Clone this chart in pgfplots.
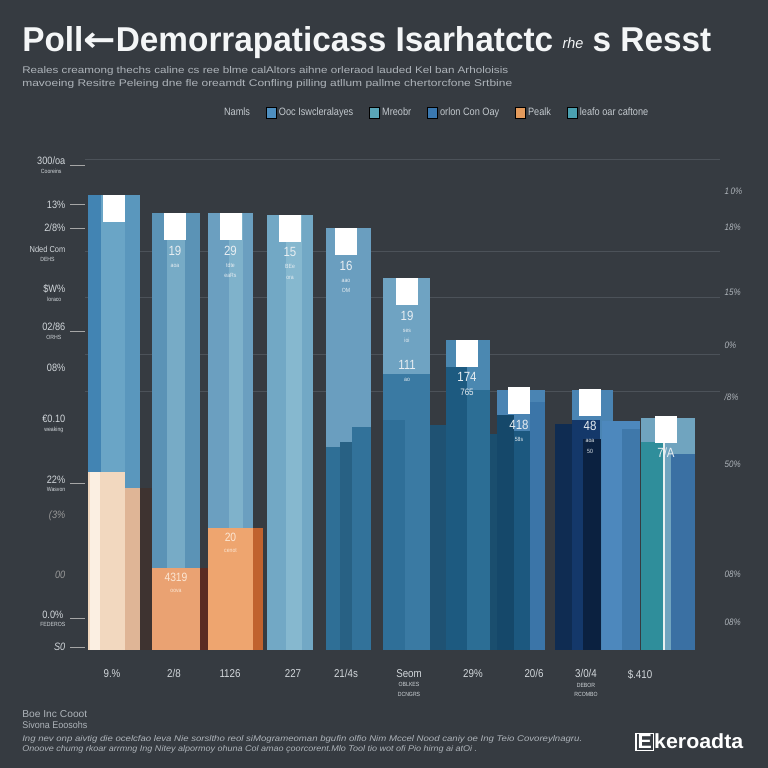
\documentclass[border=0pt]{standalone}
\usepackage{pgfplots}
\pgfplotsset{compat=1.18}
\usepackage{fontspec}
\setmainfont{Liberation Sans}[FakeStretch=0.86]
\newfontfamily\djv{DejaVu Sans}
\usepackage{graphicx}
\newlength\px \setlength\px{0.75pt}
\definecolor{bg}{HTML}{363B41}
\definecolor{titlec}{HTML}{F4F6F7}
\definecolor{subc}{HTML}{AEB4BA}
\definecolor{legc}{HTML}{C3C9CE}
\definecolor{tickc}{HTML}{D3D8DC}
\definecolor{rtc}{HTML}{AEB4BA}
\definecolor{gridc}{HTML}{4C5259}
\definecolor{labc}{HTML}{E8EEF2}
\definecolor{orlab}{HTML}{FCE7D4}
\definecolor{b1a}{HTML}{4284B3}\definecolor{b1b}{HTML}{6AA5C6}\definecolor{b1c}{HTML}{5A97BD}
\definecolor{cr}{HTML}{F2D8BF}\definecolor{wh}{HTML}{FBEFE2}\definecolor{tan}{HTML}{DFB596}
\definecolor{b2a}{HTML}{5B93B6}\definecolor{b2b}{HTML}{77ABC6}\definecolor{or2}{HTML}{EAA272}
\definecolor{b3a}{HTML}{6B9FC0}\definecolor{b3b}{HTML}{7FB2CB}\definecolor{or3}{HTML}{EEA56F}\definecolor{dor}{HTML}{C0622E}
\definecolor{g12}{HTML}{3E3330}\definecolor{g23}{HTML}{5A2B22}
\definecolor{b4a}{HTML}{72A8C5}\definecolor{b4b}{HTML}{86B8CF}
\definecolor{b5a}{HTML}{6A9EBF}\definecolor{d5a}{HTML}{2F6F96}\definecolor{d5b}{HTML}{286184}\definecolor{d5c}{HTML}{32729A}
\definecolor{b6a}{HTML}{6FA3C2}\definecolor{d6a}{HTML}{3A7AA3}\definecolor{d6b}{HTML}{2F6F98}\definecolor{s6}{HTML}{1F5273}
\definecolor{b7a}{HTML}{4B88B1}\definecolor{d7a}{HTML}{1D5A80}\definecolor{d7b}{HTML}{2C6E95}\definecolor{s7}{HTML}{1A4E6E}
\definecolor{b8a}{HTML}{4A84B3}\definecolor{d8a}{HTML}{15486A}\definecolor{d8b}{HTML}{1C587F}\definecolor{d8c}{HTML}{3B75A8}
\definecolor{d9a}{HTML}{0F2C52}\definecolor{b9a}{HTML}{4A84B3}\definecolor{d9b}{HTML}{14386A}\definecolor{d9c}{HTML}{0B2140}
\definecolor{b10a}{HTML}{4D88BD}\definecolor{b10b}{HTML}{3F78AA}\definecolor{b10c}{HTML}{70A4BF}
\definecolor{t10}{HTML}{2F8E9B}\definecolor{d10}{HTML}{3A70A3}\definecolor{wl}{HTML}{E8F0F0}
\definecolor{lg1}{HTML}{4E8FC0}\definecolor{lg2}{HTML}{5AA6B8}\definecolor{lg3}{HTML}{3A78B0}
\definecolor{lg4}{HTML}{E39A5C}\definecolor{lg5}{HTML}{4AA0B0}
\newcommand\sm{\fontsize{4.5}{5}\selectfont}
\newcommand\fit[3]{\resizebox{#1\px}{#2\px}{#3}}
\DeclareRobustCommand\lbA{}
\DeclareRobustCommand\lbB{19\\[-1pt]{\sm aoa}}
\DeclareRobustCommand\lbC{29\\[-1pt]{\sm tdte}\\[-2pt]{\sm eaRs}}
\DeclareRobustCommand\lbD{15\\[-1pt]{\sm BEe}\\[-2pt]{\sm ora}}
\DeclareRobustCommand\lbE{16\\[-1pt]{\sm aao}\\[-2pt]{\sm OM}}
\DeclareRobustCommand\lbF{19\\[-1pt]{\sm ses}\\[-2pt]{\sm ioi}\\[10pt]111\\[-1pt]{\sm ao}}
\DeclareRobustCommand\lbG{174\\[0pt]{\fontsize{7}{7}\selectfont 765}}
\DeclareRobustCommand\lbH{418\\[-1pt]{\sm 58s}}
\DeclareRobustCommand\lbI{48\\[-1pt]{\sm aoa}\\[-2pt]{\sm 50}}
\DeclareRobustCommand\lbJ{7/A}
\DeclareRobustCommand\lbOB{4319\\[-1pt]{\sm oova}}
\DeclareRobustCommand\lbOC{20\\[-1pt]{\sm cenot}}
\begin{document}
\begin{tikzpicture}[x=0.75pt,y=0.75pt]
\fill[bg] (0,0) rectangle (768,768);
% title and subtitle
\node[anchor=base west, inner sep=0pt, text=titlec] at (22,716) {\fit{689}{25}{\fontsize{30}{30}\selectfont\bfseries Poll{\djv\bfseries ←}Demorrapaticass Isarhatctc \raisebox{3pt}{\fontsize{13}{13}\selectfont\mdseries\itshape rhe} s Resst}};
\node[anchor=base west, inner sep=0pt, text=subc] at (22,694) {\fit{486}{7}{\fontsize{8}{8}\selectfont Reales creamong thechs caline cs ree blme calAltors aihne orleraod lauded Kel ban Arholoisis}};
\node[anchor=base west, inner sep=0pt, text=subc] at (22,681) {\fit{490}{7}{\fontsize{8}{8}\selectfont mavoeing Resitre Peleing dne fle oreamdt Confling pilling atllum pallme chertorcfone Srtbine}};
% right axis: grid, right labels, legend
\begin{axis}[at={(63.75pt,88.5pt)}, anchor=south west, scale only axis,
  width=635\px, height=495.72\px,
  xmin=85, xmax=720, ymin=0, ymax=102,
  axis x line=none, axis y line*=right, y axis line style={draw=none},
  ytick={94.4,87,73.7,62.8,52.1,38.3,15.6,5.8},
  yticklabels={1\,0\%,18\%,15\%,0\%,/8\%,50\%,08\%,08\%},
  ytick style={draw=none},
  yticklabel style={font=\fontsize{7}{8}\selectfont\itshape, text=rtc},
  extra y ticks={101,81.9,72.6,60.7,53.1}, extra y tick labels={},
  extra y tick style={grid=major},
  major grid style={draw=gridc, line width=0.75pt},
  legend columns=-1,
  legend image code/.code={\fill[#1] (0pt,-4pt) rectangle (7.5pt,4.5pt);},
  legend style={at={(0.553,1.083)}, anchor=center, draw=none, fill=none,
    font=\fontsize{8}{9}\selectfont, text=legc,
    /tikz/every even column/.append style={column sep=13\px}},
]
\addplot[draw=none, forget plot] coordinates {(100,50)};
\addlegendimage{empty legend}
\addlegendimage{fill=lg1}
\addlegendimage{fill=lg2}
\addlegendimage{fill=lg3}
\addlegendimage{fill=lg4}
\addlegendimage{fill=lg5}
\legend{Namls, Ooc Iswcleralayes, Mreobr, orlon Con Oay, Pealk, leafo oar caftone}
\end{axis}
% main axis: bars
\begin{axis}[at={(63.75pt,88.5pt)}, anchor=south west, scale only axis,
  width=635\px, height=495.72\px,
  xmin=85, xmax=720, ymin=0, ymax=102,
  ybar, bar shift=0pt, clip=false,
  axis line style={draw=none},
  tick pos=left, tick align=outside, major tick length=15\px,
  xtick={112,174,230,293,346,409,473,534,586,640},
  xticklabels={{9.\%},{2/8},{1126},{227},{21/4s},{Seom\\[-2pt]{\sm OBLKES}\\[-2pt]{\sm DCNGRS}},{29\%},{20/6},{3/0/4\\[-2pt]{\sm DEBOR}\\[-2pt]{\sm RCOMBO}},{\$.410}},
  xtick style={draw=none},
  xticklabel style={align=center, font=\fontsize{8.5}{9}\selectfont, text=tickc},
  ytick={99.8,91.6,86.8,65.6,34.2,6.4,0.6},
  yticklabels={{300/oa\\[-2pt]{\sm Cooreins}},{13\%},{2/8\%},{02/86\\[-2pt]{\sm ORHS}},{22\%\\[-2pt]{\sm Wasvon}},{0.0\%\\[-2pt]{\sm FEDEROS}},{\itshape S0}},
  ytick style={draw=gray!70, line width=0.6pt},
  yticklabel style={align=center, font=\fontsize{8}{8.5}\selectfont, text=tickc},
  extra y ticks={81.5,73.5,58,46.5,27.6,15.4},
  extra y tick labels={{{\fontsize{6.5}{7}\selectfont Nded Com}\\[-2pt]{\sm DEHS}},{\$W\%\\[-2pt]{\sm loraco}},{08\%},{€0.10\\[-2pt]{\sm weaking}},{\color{gray!80}\itshape (3\%},{\color{gray!80}\itshape 00}},
  extra y tick style={tick style={draw=none}, ytick style={draw=none}},
]
% bar 1
\addplot[fill=b1a, draw=none, bar width=52] coordinates {(114,93.6)};
\addplot[fill=b1b, draw=none, bar width=24] coordinates {(113,93.6)};
\addplot[fill=b1c, draw=none, bar width=15] coordinates {(132.5,93.6)};
\addplot[fill=cr, draw=none, bar width=37] coordinates {(106.5,36.6)};
\addplot[fill=wh, draw=none, bar width=10] coordinates {(95,36.6)};
\addplot[fill=tan, draw=none, bar width=15] coordinates {(132.5,33.3)};
\addplot[fill=g12, draw=none, bar width=12] coordinates {(146,33.3)};
% bar 2
\addplot[fill=b2a, draw=none, bar width=48] coordinates {(176,89.9)};
\addplot[fill=b2b, draw=none, bar width=18] coordinates {(176,89.9)};
\addplot[fill=or2, draw=none, bar width=48] coordinates {(176,16.9)};
\addplot[fill=g23, draw=none, bar width=8] coordinates {(204,16.9)};
% bar 3
\addplot[fill=b3a, draw=none, bar width=45] coordinates {(230.5,89.9)};
\addplot[fill=b3b, draw=none, bar width=14] coordinates {(236,89.9)};
\addplot[fill=or3, draw=none, bar width=45] coordinates {(230.5,25.1)};
\addplot[fill=dor, draw=none, bar width=10] coordinates {(257.5,25.1)};
% bar 4
\addplot[fill=b4a, draw=none, bar width=46] coordinates {(290,89.5)};
\addplot[fill=b4b, draw=none, bar width=16] coordinates {(294,89.5)};
% bar 5
\addplot[fill=b5a, draw=none, bar width=45] coordinates {(348.5,86.8)};
\addplot[fill=d5a, draw=none, bar width=14] coordinates {(333,41.8)};
\addplot[fill=d5b, draw=none, bar width=12] coordinates {(346,42.8)};
\addplot[fill=d5c, draw=none, bar width=19] coordinates {(361.5,45.9)};
% bar 6
\addplot[fill=b6a, draw=none, bar width=47] coordinates {(406.5,76.5)};
\addplot[fill=d6a, draw=none, bar width=47] coordinates {(406.5,56.8)};
\addplot[fill=d6b, draw=none, bar width=22] coordinates {(394,47.3)};
\addplot[fill=s6, draw=none, bar width=16] coordinates {(438,46.3)};
% bar 7
\addplot[fill=b7a, draw=none, bar width=44] coordinates {(468,63.8)};
\addplot[fill=d7a, draw=none, bar width=21] coordinates {(456.5,58.2)};
\addplot[fill=d7b, draw=none, bar width=23] coordinates {(478.5,53.5)};
\addplot[fill=s7, draw=none, bar width=7] coordinates {(493.5,44.4)};
% bar 8
\addplot[fill=b8a, draw=none, bar width=48] coordinates {(521,53.5)};
\addplot[fill=d8a, draw=none, bar width=17] coordinates {(505.5,48.4)};
\addplot[fill=d8b, draw=none, bar width=16] coordinates {(522,45)};
\addplot[fill=d8c, draw=none, bar width=15] coordinates {(537.5,51)};
% bar 9
\addplot[fill=d9a, draw=none, bar width=17] coordinates {(563.5,46.5)};
\addplot[fill=b9a, draw=none, bar width=41] coordinates {(592.5,53.5)};
\addplot[fill=d9b, draw=none, bar width=28] coordinates {(586,47.3)};
\addplot[fill=d9c, draw=none, bar width=18] coordinates {(592,43.4)};
% bar 10
\addplot[fill=b10a, draw=none, bar width=38] coordinates {(621,47.1)};
\addplot[fill=b10b, draw=none, bar width=18] coordinates {(631,45.5)};
\addplot[fill=b10c, draw=none, bar width=54] coordinates {(668,47.7)};
\addplot[fill=t10, draw=none, bar width=24] coordinates {(653,42.8)};
\addplot[fill=d10, draw=none, bar width=24] coordinates {(683,40.3)};
\addplot[fill=wl, draw=none, bar width=2] coordinates {(664,42.8)};
% white boxes with value labels
\addplot[draw=none, fill=none, bar width=1, point meta=explicit symbolic,
  nodes near coords={\textcolor{white}{\rule{22\px}{27\px}}\\[1pt]\pgfplotspointmeta},
  nodes near coords style={anchor=north, inner sep=0pt, align=center,
    font=\fontsize{10}{10}\selectfont, text=labc}]
  coordinates {(114.5,93.6)[\lbA] (175,89.9)[\lbB] (230.5,89.9)[\lbC] (290,89.5)[\lbD]
  (346,86.8)[\lbE] (407,76.5)[\lbF] (467,63.8)[\lbG] (519,54.1)[\lbH]
  (590,53.7)[\lbI] (666,48.3)[\lbJ]};
% labels on the orange parts
\addplot[draw=none, fill=none, bar width=1, point meta=explicit symbolic,
  nodes near coords={\pgfplotspointmeta},
  nodes near coords style={anchor=north, inner sep=0pt, align=center, yshift=-4pt,
    font=\fontsize{9}{9}\selectfont, text=orlab}]
  coordinates {(176,16.9)[\lbOB] (230.5,25.1)[\lbOC]};
\end{axis}
% footer
\node[anchor=base west, inner sep=0pt, text=subc] at (22,50) {\fit{65}{7}{\fontsize{8}{8}\selectfont Boe Inc Cooot}};
\node[anchor=base west, inner sep=0pt, text=subc] at (22,39) {\fit{65}{7}{\fontsize{8}{8}\selectfont Sivona Eoosohs}};
\node[anchor=base west, inner sep=0pt, text=subc] at (22,26) {\fit{560}{6}{\fontsize{7}{7}\selectfont\itshape Ing nev onp aivtig die ocelcfao leva Nie sorsltho reol siMogrameoman bgufin olfio Nim Mccel Nood caniy oe Ing Teio Covoreylnagru.}};
\node[anchor=base west, inner sep=0pt, text=subc] at (22,16) {\fit{455}{6}{\fontsize{7}{7}\selectfont\itshape Onoove chumg rkoar arrmng Ing Nitey alpormoy ohuna Col amao çoorcorent.Mlo Tool tio wot ofi Pio hirng ai atOi .}};
\node[anchor=base west, inner sep=0pt, text=white] at (635,19) {\fit{108}{16}{\fontsize{16}{16}\selectfont\bfseries\setlength\fboxsep{0.6pt}\setlength\fboxrule{0.9pt}\fbox{E}keroadta}};
\pgfresetboundingbox
\path[use as bounding box] (0,0) rectangle (768,768);
\end{tikzpicture}
\end{document}
